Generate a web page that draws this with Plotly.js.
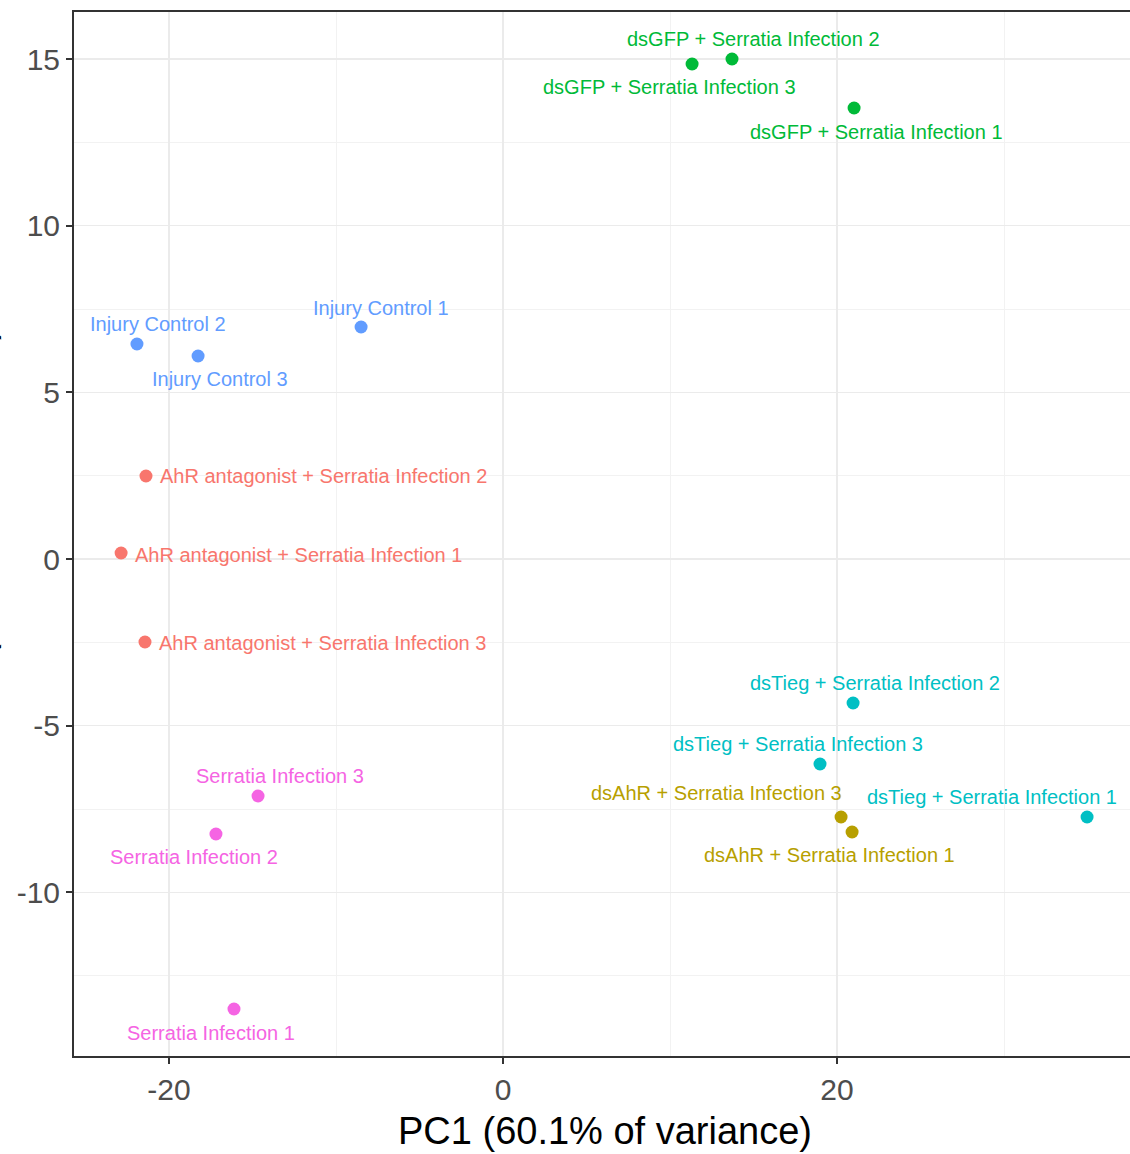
<!DOCTYPE html>
<html>
<head>
<meta charset="utf-8">
<script src="https://cdn.plot.ly/plotly-3.0.1.min.js"></script>
<style>
html, body { margin:0; padding:0; overflow:hidden; background:#fff; width:1130px; height:1154px; }
#chart { width:1160px; height:1154px; }
</style>
</head>
<body>
<div id="chart"></div>
<script>
// ---- data ----
const groups = ["AhR antagonist + Serratia Infection", "dsAhR + Serratia Infection", "dsGFP + Serratia Infection",
                "dsTieg + Serratia Infection", "Injury Control", "Serratia Infection"];
const groupColors = ["#F8766D", "#B79F00", "#00BA38", "#00BFC4", "#619CFF", "#F564E3"];

const sampleNames = [
  "AhR antagonist + Serratia Infection 1", "AhR antagonist + Serratia Infection 2", "AhR antagonist + Serratia Infection 3",
  "dsAhR + Serratia Infection 1", "dsAhR + Serratia Infection 3",
  "dsGFP + Serratia Infection 1", "dsGFP + Serratia Infection 2", "dsGFP + Serratia Infection 3",
  "dsTieg + Serratia Infection 1", "dsTieg + Serratia Infection 2", "dsTieg + Serratia Infection 3",
  "Injury Control 1", "Injury Control 2", "Injury Control 3",
  "Serratia Infection 1", "Serratia Infection 2", "Serratia Infection 3"
];
const sampleGroup = [0,0,0, 1,1, 2,2,2, 3,3,3, 4,4,4, 5,5,5];
const pc1 = [-22.87, -21.38, -21.44,  20.90, 20.24,  21.02, 13.71, 11.32,  34.97, 20.96, 18.98,  -8.50, -21.92, -18.26,  -16.11, -17.19, -14.67];
const pc2 = [  0.18,   2.49,  -2.49,  -8.19, -7.74,  13.53, 15.00, 14.85,  -7.74, -4.32, -6.15,   6.96,   6.45,   6.09,  -13.50,  -8.25,  -7.11];

// tick labels
const xTickVals = [-20, 0, 20];
const xTickText = ["-20", "0", "20"];
const yTickVals = [-10, -5, 0, 5, 10, 15];
const yTickText = ["-10", "-5", "0", "5", "10", "15"];

// label placement (pixel offsets, styling only)
const labelAnchor = ["left","left","left", "center","center", "center","center","center", "center","center","center", "center","center","center", "center","center","center"];
const labelDx = [12, 12, 12,  -23, -125,  22, 21, -23,  -95, 22, -22,  20, 21, 22,  -23, -22, 22];
const labelDy = [-2, 0, -1,  -23, 24,  -24, 20, -23,  20, 20, 20,  19, 20, -23,  -24, -23, 20];

const xTitle = "PC1 (60.1% of variance)";
const yTitle = "PC2 (16.8% of variance)";

// ---- traces ----
const traces = groups.map((g, gi) => {
  const idx = sampleGroup.map((v, i) => v === gi ? i : -1).filter(i => i >= 0);
  return {
    type: "scatter", mode: "markers", name: g,
    x: idx.map(i => pc1[i]), y: idx.map(i => pc2[i]),
    text: idx.map(i => sampleNames[i]),
    marker: { color: groupColors[gi], size: 13, line: { width: 0 } },
    hoverinfo: "text"
  };
});

const annotations = sampleNames.map((name, i) => ({
  x: pc1[i], y: pc2[i], xref: "x", yref: "y",
  text: name, showarrow: false,
  xanchor: labelAnchor[i], yanchor: "middle",
  xshift: labelDx[i], yshift: labelDy[i],
  font: { family: "Liberation Sans, Arial, sans-serif", size: 20, color: groupColors[sampleGroup[i]] }
}));

// y-axis title (cropped at the left edge as in the reference)
annotations.push({
  xref: "paper", yref: "paper", x: -0.0665, y: 0.5,
  xanchor: "right", yanchor: "middle", textangle: -90,
  text: yTitle, showarrow: false,
  font: { family: "Liberation Sans, Arial, sans-serif", size: 38, color: "#000" }
});

const axisCommon = {
  showgrid: true, gridcolor: "#ebebeb", gridwidth: 1.6,
  zeroline: false, showline: true, mirror: true, linecolor: "#333333", linewidth: 2,
  ticks: "outside", ticklen: 6, tickwidth: 2, tickcolor: "#333333",
  tickfont: { family: "Liberation Sans, Arial, sans-serif", size: 30, color: "#4d4d4d" }
};

const layout = {
  width: 1160, height: 1154,
  margin: { l: 74, r: 24, t: 12, b: 98 },
  paper_bgcolor: "#ffffff", plot_bgcolor: "#ffffff",
  showlegend: false,
  xaxis: Object.assign({}, axisCommon, {
    range: [-25.69, 37.9], tickmode: "array", tickvals: xTickVals, ticktext: xTickText,
    minor: { tickmode: "linear", tick0: 0, dtick: 10, showgrid: true, gridcolor: "#f2f2f2", gridwidth: 1, ticks: "" },
    title: { text: xTitle, standoff: 12, font: { family: "Liberation Sans, Arial, sans-serif", size: 38, color: "#000" } }
  }),
  yaxis: Object.assign({}, axisCommon, {
    range: [-14.91, 16.41], tickmode: "array", tickvals: yTickVals, ticktext: yTickText,
    minor: { tickmode: "linear", tick0: 0, dtick: 2.5, showgrid: true, gridcolor: "#f2f2f2", gridwidth: 1, ticks: "" }
  }),
  annotations: annotations
};

Plotly.newPlot("chart", traces, layout, { displayModeBar: false, staticPlot: true });
</script>
</body>
</html>
